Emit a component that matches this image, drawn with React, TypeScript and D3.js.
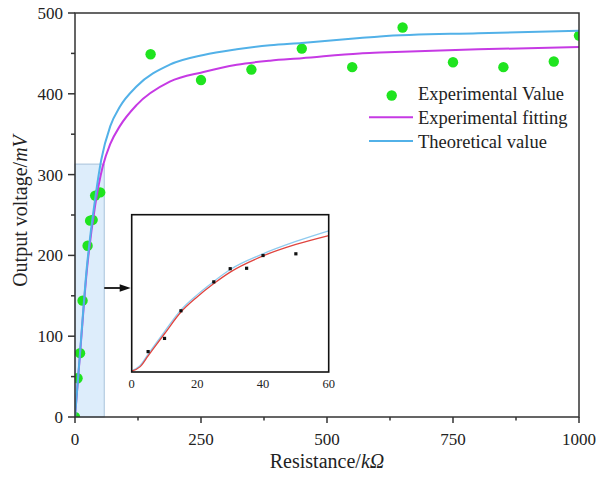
import React from "react";
import * as d3 from "d3";

// ---- data ----
const pointR = [0, 5, 10, 15, 25, 30, 35, 40, 50, 150, 250, 350, 450, 550, 650, 750, 850, 950, 1000];
const pointV = [0, 48, 79, 144, 212, 243, 244, 274, 278, 449, 417, 430, 456, 433, 482, 439, 433, 440, 472];

const theoR = [0, 10, 23, 40, 52, 70, 89, 122, 188, 255, 321, 387, 450, 565, 605, 800, 1000];
const theoV = [0, 80, 182, 270, 318, 360, 384, 409, 436, 448, 455, 460, 463, 469, 471, 475, 478];

const fitR = [0, 10, 23, 40, 55, 70, 89, 122, 188, 255, 321, 387, 450, 565, 605, 800, 1000];
const fitV = [0, 78, 178, 262, 310, 338, 360, 386, 415, 427, 436, 441, 444, 450, 451, 455, 458];

const insetR = [0, 2.5, 5, 10, 15, 20, 25, 30, 40, 50, 60];
const insetFitV = [2, 12, 38, 90, 141, 177, 208, 235, 273, 300, 321];
const insetTheoV = [3, 15, 42, 95, 146, 182, 213, 241, 278, 307, 332];

const yMajor = [0, 100, 200, 300, 400, 500];
const yMinor = [50, 150, 250, 350, 450];
const xMajor = [0, 250, 500, 750, 1000];
const xMinor = [125, 375, 625, 875];
const insetXTicks = [0, 20, 40, 60];

const zoomBox = { r: 58, v: 313 };

const legendItems = ["Experimental Value", "Experimental fitting", "Theoretical value"];

// ---- style ----
const FONT = "'Liberation Serif', 'Times New Roman', serif";
const GREEN = "#1fe41f";
const MAGENTA = "#c63ae4";
const BLUE = "#52b1e8";
const RED = "#e0443f";
const LBLUE = "#8fcbef";
const AXIS = "#333";

export default function App() {
  const L = 75, R = 579, T = 13, B = 417;
  const x = d3.scaleLinear().domain([0, 1000]).range([L, R]);
  const y = d3.scaleLinear().domain([0, 500]).range([B, T]);

  const iL = 131.7, iR = 328.7, iT = 214.7, iB = 372;
  const ix = d3.scaleLinear().domain([0, 60]).range([iL, iR]);
  const iy = d3.scaleLinear().domain([0, 370]).range([iB, iT]);

  const mainLine = (rs: number[], vs: number[]) =>
    d3.line<number>().x((_, i) => x(rs[i])).y((_, i) => y(vs[i])).curve(d3.curveMonotoneX)(rs) || "";
  const insetLine = (rs: number[], vs: number[]) =>
    d3.line<number>().x((_, i) => ix(rs[i])).y((_, i) => iy(vs[i])).curve(d3.curveMonotoneX)(rs) || "";

  const insetPts = pointR.map((r, i) => ({ r, v: pointV[i] })).filter((p) => p.r > 0 && p.r <= 60);

  const arrowY = 288;

  return (
    <svg width={601} height={484} style={{ position: "absolute", left: 0, top: 0, background: "#fff" }} fontFamily={FONT}>
      <defs>
        <clipPath id="plotClip">
          <rect x={L} y={T} width={R - L} height={B - T} />
        </clipPath>
        <clipPath id="insetClip">
          <rect x={iL} y={iT} width={iR - iL} height={iB - iT} />
        </clipPath>
      </defs>
      <rect x={0} y={0} width={601} height={484} fill="#fff" />

      {/* shaded zoom region */}
      <rect x={x(0)} y={y(zoomBox.v)} width={x(zoomBox.r) - x(0)} height={y(0) - y(zoomBox.v)}
        fill="#ddedfb" stroke="#a7c2da" strokeWidth={1} />

      {/* points */}
      <g clipPath="url(#plotClip)">
        {pointR.map((r, i) => (
          <circle key={i} cx={x(r)} cy={y(pointV[i])} r={5.2} fill={GREEN} />
        ))}
        <path d={mainLine(fitR, fitV)} fill="none" stroke={MAGENTA} strokeWidth={2} />
        <path d={mainLine(theoR, theoV)} fill="none" stroke={BLUE} strokeWidth={2} />
      </g>

      {/* axes frame */}
      <rect x={L} y={T} width={R - L} height={B - T} fill="none" stroke={AXIS} strokeWidth={1.5} />
      {yMajor.map((v) => (
        <g key={"ym" + v}>
          <line x1={L - 7} x2={L} y1={y(v)} y2={y(v)} stroke={AXIS} strokeWidth={1.5} />
          <text x={L - 12} y={y(v)} dy="0.35em" textAnchor="end" fontSize={17} fill="#222">{v}</text>
        </g>
      ))}
      {yMinor.map((v) => (
        <line key={"yn" + v} x1={L - 4} x2={L} y1={y(v)} y2={y(v)} stroke={AXIS} strokeWidth={1.5} />
      ))}
      {xMajor.map((v) => (
        <g key={"xm" + v}>
          <line x1={x(v)} x2={x(v)} y1={B} y2={B + 6} stroke={AXIS} strokeWidth={1.5} />
          <text x={x(v)} y={445} textAnchor="middle" fontSize={17} fill="#222">{v}</text>
        </g>
      ))}
      {xMinor.map((v) => (
        <line key={"xn" + v} x1={x(v)} x2={x(v)} y1={B} y2={B + 3.5} stroke={AXIS} strokeWidth={1.5} />
      ))}

      {/* axis titles */}
      <text x={327} y={468} textAnchor="middle" fontSize={20} fill="#222">
        Resistance/<tspan fontStyle="italic">kΩ</tspan>
      </text>
      <text transform="translate(27,211) rotate(-90)" textAnchor="middle" fontSize={20} fill="#222">
        Output voltage/<tspan fontStyle="italic">mV</tspan>
      </text>

      {/* legend */}
      <circle cx={391.7} cy={95.5} r={5.2} fill={GREEN} />
      <line x1={369} x2={413} y1={117.3} y2={117.3} stroke={MAGENTA} strokeWidth={2} />
      <line x1={369} x2={413} y1={141} y2={141} stroke={BLUE} strokeWidth={2} />
      {legendItems.map((t, i) => (
        <text key={t} x={418} y={100 + i * 23.8} fontSize={18.5} fill="#222">{t}</text>
      ))}

      {/* arrow */}
      <line x1={x(zoomBox.r)} x2={121} y1={arrowY} y2={arrowY} stroke="#111" strokeWidth={1.8} />
      <path d={`M${iL - 1},${arrowY} L${iL - 12},${arrowY - 3.8} L${iL - 12},${arrowY + 3.8} Z`} fill="#111" />

      {/* inset */}
      <rect x={iL} y={iT} width={iR - iL} height={iB - iT} fill="#fff" />
      <g clipPath="url(#insetClip)">
        <path d={insetLine(insetR, insetTheoV)} fill="none" stroke={LBLUE} strokeWidth={1.3} />
        <path d={insetLine(insetR, insetFitV)} fill="none" stroke={RED} strokeWidth={1.3} />
        {insetPts.map((p, i) => (
          <rect key={i} x={ix(p.r) - 1.6} y={iy(p.v) - 1.6} width={3.2} height={3.2} fill="#111" />
        ))}
      </g>
      <rect x={iL} y={iT} width={iR - iL} height={iB - iT} fill="none" stroke="#111" strokeWidth={1.6} />
      {insetXTicks.map((v) => (
        <text key={"ix" + v} x={ix(v)} y={388} textAnchor="middle" fontSize={12.5} fill="#222">{v}</text>
      ))}
    </svg>
  );
}
